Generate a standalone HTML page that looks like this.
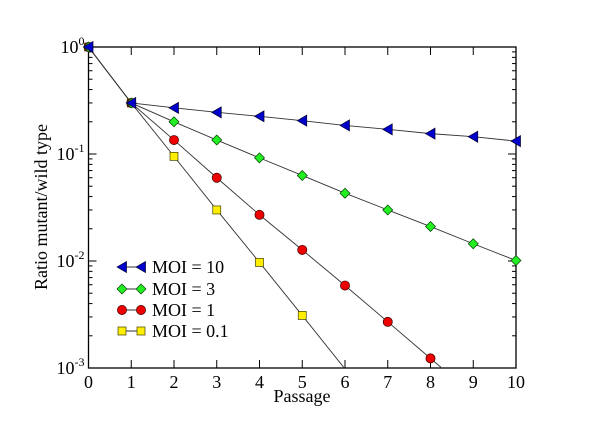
<!DOCTYPE html>
<html><head><meta charset="utf-8"><style>
html,body{margin:0;padding:0;background:#fff;}
svg{display:block;}
svg text{font-family:"Liberation Serif","DejaVu Serif",serif;}
</style></head><body>
<svg id="chart" width="600" height="423" viewBox="0 0 600 423">
<defs><clipPath id="clip"><rect x="88.5" y="47" width="427.5" height="321"/></clipPath></defs>
<g id="axes"></g>
<g id="series" clip-path="url(#clip)"></g>
<g id="marks"></g>
<g id="legend"></g>
<text x="302" y="402" text-anchor="middle" font-size="18" font-family="Liberation Serif, serif">Passage</text>
<text transform="translate(47,207) rotate(-90)" text-anchor="middle" font-size="18" font-family="Liberation Serif, serif">Ratio mutant/wild type</text>
</svg>
<script>
const passages = [0,1,2,3,4,5,6,7,8,9,10];
const moi10 = [1,0.3,0.27,0.245,0.225,0.205,0.185,0.17,0.155,0.145,0.132];
const moi3 = [1,0.3,0.2,0.135,0.092,0.063,0.043,0.03,0.021,0.0145,0.0101];
const moi1 = [1,0.3,0.135,0.06,0.027,0.0127,0.0059,0.0027,0.00123];
const moi01 = [1,0.3,0.095,0.03,0.0097,0.0031];
const moi1Tail = [0.00056];
const moi01Tail = [0.00098];
const xTicks = [0,1,2,3,4,5,6,7,8,9,10];
const yExps = [0,-1,-2,-3];
const legendLabels = ["MOI = 10","MOI = 3","MOI = 1","MOI = 0.1"];

const NS="http://www.w3.org/2000/svg";
const L=88.5,R=516,T=47,B=368;
const xs=p=>L+(p-0)/(10-0)*(R-L);
const ys=v=>B-(Math.log10(v)-(-3))/3*(B-T);
function mk(tag,attrs,parent){const e=document.createElementNS(NS,tag);for(const k in attrs)e.setAttribute(k,attrs[k]);parent.appendChild(e);return e;}
const FF='Liberation Serif, serif';
const axes=document.getElementById('axes');
const r=mk('rect',{x:L,y:T,width:R-L,height:B-T,fill:'none',stroke:'#000','stroke-width':1.3},axes);


xTicks.forEach(t=>{
  const x=xs(t);
  mk('line',{x1:x,y1:B,x2:x,y2:B-8,stroke:'#000','stroke-width':1},axes);
  mk('line',{x1:x,y1:T,x2:x,y2:T+8,stroke:'#000','stroke-width':1},axes);
  const tx=mk('text',{x:x,y:388,'text-anchor':'middle','font-size':18,'font-family':FF},axes);
  tx.textContent=t;
  
  
});
yExps.forEach(e=>{
  const y=ys(Math.pow(10,e));
  mk('line',{x1:L,y1:y,x2:L+8,y2:y,stroke:'#000'},axes);
  mk('line',{x1:R,y1:y,x2:R-8,y2:y,stroke:'#000'},axes);
  const tx=mk('text',{x:L-4,y:y+6,'text-anchor':'end','font-size':18,'font-family':FF},axes);
  tx.innerHTML='10<tspan dy="-8" font-size="12">'+e+'</tspan>';
  
  
  if(e>-3){for(let m=2;m<=9;m++){const yy=ys(m*Math.pow(10,e-1));
    mk('line',{x1:L,y1:yy,x2:L+4,y2:yy,stroke:'#000'},axes);
    mk('line',{x1:R,y1:yy,x2:R-4,y2:yy,stroke:'#000'},axes);}}
});
const sg=document.getElementById('series'),mg=document.getElementById('marks');
function marker(type,x,y,parent){
  let e;
  if(type==='tri') e=mk('polygon',{points:`${x-5},${y} ${x+4.5},${y-5.5} ${x+4.5},${y+5.5}`,fill:'#0000cc',stroke:'#000030','stroke-width':0.7},parent);
  else if(type==='dia') e=mk('polygon',{points:`${x},${y-5} ${x+5},${y} ${x},${y+5} ${x-5},${y}`,fill:'#22ee22',stroke:'#004000','stroke-width':0.7},parent);
  else if(type==='cir') e=mk('circle',{cx:x,cy:y,r:4.6,fill:'#ee0000',stroke:'#400000','stroke-width':0.7},parent);
  else e=mk('rect',{x:x-4,y:y-4,width:8,height:8,fill:'#ffee00',stroke:'#404000','stroke-width':0.7},parent);
  return e;
}
const series=[[moi01,moi01Tail,'sq','moi-0.1'],[moi1,moi1Tail,'cir','moi-1'],[moi3,[],'dia','moi-3'],[moi10,[],'tri','moi-10']];
series.forEach(([vals,tail,type,name])=>{
  const all=vals.concat(tail);
  const pts=all.map((v,i)=>xs(passages[i])+','+ys(v)).join(' ');
  const pl=mk('polyline',{points:pts,fill:'none',stroke:'#333','stroke-width':0.9},sg);
  
  
  vals.forEach((v,i)=>{const m=marker(type,xs(passages[i]),ys(v),mg);
    
    });
});
const lg=document.getElementById('legend');
const ltypes=['tri','dia','cir','sq'];const ly=[267,289,310,331];
legendLabels.forEach((lab,i)=>{
  mk('line',{x1:122,y1:ly[i],x2:141,y2:ly[i],stroke:'#333'},lg);
  marker(ltypes[i],122,ly[i],lg);marker(ltypes[i],141,ly[i],lg);
  const t=mk('text',{x:152,y:ly[i]+6,'font-size':18,'font-family':FF},lg);
  t.textContent=lab;
  
  
});
</script>
</body></html>
